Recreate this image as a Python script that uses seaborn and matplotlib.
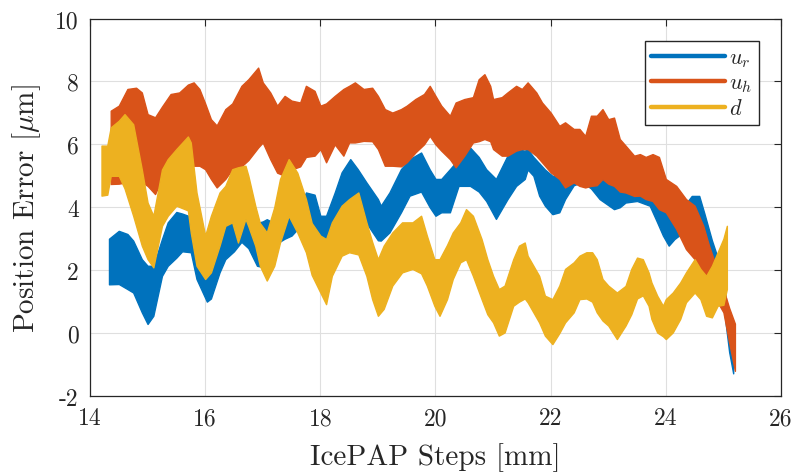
import numpy as np
import pandas as pd
import matplotlib
matplotlib.use("Agg")
import matplotlib.pyplot as plt
import seaborn as sns
from matplotlib.lines import Line2D

# Envelope (lower / upper) of each measured error band versus IcePAP steps [mm]
ur_x = [14.33, 14.5, 14.65, 14.75, 14.9, 15.0, 15.1, 15.25, 15.35, 15.5, 15.6, 15.75,
        15.85, 16.03, 16.1, 16.25, 16.35, 16.5, 16.63, 16.75, 16.9, 17.0, 17.07, 17.2,
        17.38, 17.5, 17.6, 17.75, 17.9, 18.0, 18.1, 18.25, 18.37, 18.52, 18.65, 18.8,
        19.0, 19.05, 19.2, 19.4, 19.55, 19.75, 19.9, 20.0, 20.1, 20.25, 20.4, 20.6,
        20.75, 20.88, 21.05, 21.25, 21.4, 21.55, 21.6, 21.7, 21.8, 21.9, 22.03, 22.15,
        22.25, 22.4, 22.55, 22.7, 22.85, 23.1, 23.2, 23.3, 23.5, 23.72, 23.85, 23.95,
        24.05, 24.15, 24.3, 24.45, 24.58, 24.67, 24.8, 24.9, 25.0, 25.1, 25.17]
ur_lo = [1.55, 1.56, 1.4, 1.29, 0.66, 0.29, 0.55, 1.82, 2.14, 2.4, 2.6, 2.57,
         1.72, 1.0, 1.1, 1.93, 2.35, 2.6, 2.9, 2.7, 2.14, 2.1, 2.5, 2.8,
         3.0, 3.1, 3.3, 3.4, 3.3, 2.99, 2.67, 3.31, 3.84, 4.26, 4.0, 3.5,
         2.95, 2.94, 3.2, 3.84, 4.37, 4.5, 4.0, 3.73, 3.84, 3.84, 4.68, 4.68,
         4.5, 4.2, 3.63, 4.26, 4.68, 4.9, 5.2, 5.0, 4.37, 4.05, 3.78, 3.84,
         4.26, 4.7, 4.8, 4.6, 4.26, 3.94, 4.0, 4.15, 4.2, 4.05, 3.52, 3.1,
         2.78, 2.99, 3.2, 3.5, 3.6, 3.2, 2.1, 1.6, 0.9, -0.6, -1.28]
ur_hi = [3.0, 3.25, 3.15, 2.94, 2.35, 2.14, 2.14, 2.99, 3.52, 3.85, 3.8, 3.7,
         3.0, 2.2, 2.4, 3.0, 3.4, 3.6, 3.75, 3.73, 3.5, 3.55, 3.62, 3.5,
         3.75, 3.84, 3.8, 4.47, 4.4, 3.73, 3.73, 4.47, 5.11, 5.53, 5.21, 4.79,
         4.26, 4.05, 4.47, 5.21, 5.53, 5.74, 5.2, 4.9, 4.9, 5.21, 5.53, 5.9,
         5.6, 5.21, 4.9, 5.64, 5.85, 5.8, 5.85, 5.6, 5.4, 5.2, 5.0, 5.0,
         5.1, 5.3, 5.4, 5.43, 5.3, 5.0, 4.9, 4.8, 4.8, 4.6, 4.3, 4.1,
         3.9, 3.9, 4.0, 4.36, 4.36, 3.8, 2.95, 2.4, 1.8, 0.2, -0.9]

uh_x = [14.36, 14.5, 14.65, 14.8, 14.9, 15.0, 15.13, 15.25, 15.4, 15.55, 15.7, 15.8,
        15.9, 16.0, 16.1, 16.2, 16.35, 16.47, 16.63, 16.75, 16.92, 17.0, 17.13, 17.25,
        17.38, 17.5, 17.65, 17.75, 17.9, 18.0, 18.1, 18.25, 18.4, 18.5, 18.6, 18.75,
        18.9, 19.0, 19.12, 19.25, 19.4, 19.5, 19.65, 19.8, 19.9, 20.0, 20.1, 20.25,
        20.35, 20.5, 20.65, 20.75, 20.85, 20.95, 21.0, 21.15, 21.25, 21.4, 21.5, 21.6,
        21.75, 21.85, 22.0, 22.15, 22.25, 22.4, 22.5, 22.6, 22.7, 22.8, 22.9, 23.0,
        23.1, 23.2, 23.3, 23.45, 23.55, 23.65, 23.77, 23.88, 24.0, 24.18, 24.35, 24.5,
        24.65, 24.75, 24.87, 25.0, 25.1, 25.2]
uh_lo = [4.74, 4.75, 4.8, 4.9, 4.8, 4.68, 4.42, 4.9, 5.1, 5.2, 5.3, 5.32,
         5.32, 5.21, 4.9, 4.63, 4.9, 5.21, 5.3, 5.5, 5.9, 6.06, 5.53, 5.1,
         5.0, 5.2, 5.3, 5.6, 5.64, 5.85, 5.43, 6.0, 5.64, 6.06, 6.06, 6.11,
         6.1, 5.85, 5.32, 5.32, 5.3, 5.43, 5.74, 6.0, 6.27, 6.0, 5.8, 5.53,
         5.27, 5.64, 6.06, 6.1, 6.17, 6.1, 5.85, 5.64, 5.64, 5.8, 5.85, 5.85,
         5.64, 5.43, 5.11, 4.9, 4.63, 4.79, 4.68, 4.63, 4.68, 4.7, 4.9, 4.75,
         4.68, 4.5, 4.47, 4.36, 4.37, 4.26, 4.2, 3.94, 3.84, 3.31, 2.67, 2.35,
         1.82, 1.51, 1.08, 0.66, -0.3, -1.2]
uh_hi = [7.07, 7.23, 7.76, 7.8, 7.65, 6.96, 6.86, 7.2, 7.6, 7.65, 7.9, 7.97,
         7.76, 7.3, 6.8, 6.6, 7.12, 7.3, 7.86, 8.07, 8.44, 7.97, 7.65, 7.23,
         7.54, 7.39, 7.33, 7.86, 7.7, 7.23, 7.3, 7.54, 7.76, 7.86, 7.97, 7.76,
         7.8, 7.54, 7.12, 7.01, 7.12, 7.23, 7.44, 7.6, 7.86, 7.54, 7.23, 6.91,
         7.33, 7.44, 7.5, 8.07, 8.23, 7.86, 7.44, 7.5, 7.65, 7.86, 7.76, 7.97,
         7.65, 7.33, 7.01, 6.59, 6.7, 6.49, 6.49, 6.27, 6.91, 6.91, 7.12, 6.8,
         6.85, 6.17, 5.96, 5.64, 5.69, 5.6, 5.69, 5.6, 4.9, 4.68, 4.26, 4.05,
         3.41, 2.78, 2.14, 1.4, 0.8, 0.3]

d_x = [14.2, 14.3, 14.36, 14.5, 14.6, 14.75, 14.9, 15.0, 15.1, 15.25, 15.35, 15.5,
       15.7, 15.75, 15.85, 16.0, 16.1, 16.25, 16.35, 16.47, 16.57, 16.7, 16.75, 16.87,
       16.95, 17.07, 17.2, 17.3, 17.45, 17.6, 17.75, 17.85, 18.0, 18.1, 18.2, 18.37,
       18.5, 18.66, 18.8, 18.9, 19.0, 19.1, 19.25, 19.42, 19.6, 19.75, 19.85, 19.98,
       20.07, 20.2, 20.3, 20.43, 20.53, 20.65, 20.8, 20.9, 21.0, 21.1, 21.2, 21.35,
       21.45, 21.55, 21.6, 21.8, 21.9, 22.03, 22.15, 22.25, 22.4, 22.5, 22.62, 22.72,
       22.8, 22.9, 23.0, 23.15, 23.3, 23.4, 23.5, 23.6, 23.7, 23.75, 23.85, 23.95,
       24.0, 24.12, 24.25, 24.35, 24.5, 24.6, 24.7, 24.8, 24.9, 25.0, 25.06]
d_lo = [4.37, 4.4, 5.0, 5.0, 4.6, 3.73, 2.78, 2.35, 2.09, 3.41, 3.73, 4.05,
        3.9, 3.2, 2.14, 1.72, 1.93, 2.78, 3.41, 3.52, 2.88, 3.63, 3.4, 2.78,
        2.14, 1.67, 2.14, 2.88, 3.73, 3.2, 2.57, 1.85, 1.29, 0.92, 1.82, 2.46,
        2.57, 2.5, 1.82, 1.08, 0.55, 0.77, 1.51, 1.93, 2.04, 1.9, 1.51, 0.87,
        0.55, 1.08, 1.72, 2.25, 2.35, 1.82, 1.08, 0.6, 0.34, -0.08, 0.02, 0.87,
        1.0, 1.1, 0.98, 0.34, -0.08, -0.35, 0.0, 0.34, 0.66, 1.08, 1.1, 1.0,
        0.66, 0.4, 0.24, -0.19, 0.24, 0.6, 1.1, 1.2, 0.87, 0.45, 0.02, -0.1,
        -0.19, 0.02, 0.45, 0.98, 1.29, 1.08, 0.55, 0.5, 0.87, 0.9, 1.4]
d_hi = [5.96, 5.96, 6.54, 6.75, 6.96, 6.64, 5.2, 4.15, 3.73, 5.2, 5.53, 5.85,
        6.25, 6.06, 4.47, 3.1, 3.73, 4.47, 4.68, 5.21, 5.27, 5.32, 5.0, 4.05,
        3.5, 3.2, 4.0, 4.9, 5.53, 5.1, 4.26, 3.5, 3.1, 2.99, 3.52, 4.05,
        4.26, 4.47, 3.52, 2.9, 2.35, 2.78, 3.2, 3.52, 3.52, 3.73, 3.1, 2.35,
        2.35, 2.8, 3.2, 3.52, 3.94, 3.73, 2.99, 2.35, 1.82, 1.4, 1.51, 2.35,
        2.78, 2.88, 2.46, 1.82, 1.19, 1.08, 1.51, 2.04, 2.25, 2.46, 2.57, 2.57,
        2.35, 1.72, 1.51, 1.29, 1.5, 2.04, 2.4, 2.35, 1.93, 1.61, 1.19, 0.87,
        1.08, 1.29, 1.61, 1.93, 2.35, 2.04, 1.82, 2.14, 2.57, 3.0, 3.41]

series_names = ["$u_r$", "$u_h$", "$d$"]
series_colors = ["#0072BD", "#D95319", "#EDB120"]
x_ticks = [14, 16, 18, 20, 22, 24, 26]
y_ticks = [-2, 0, 2, 4, 6, 8, 10]


def band_frame(x, lo, hi, name):
    return pd.DataFrame({
        "steps": np.concatenate([x, x]),
        "error": np.concatenate([lo, hi]),
        "signal": name,
    })


bands = [
    band_frame(ur_x, ur_lo, ur_hi, series_names[0]),
    band_frame(uh_x, uh_lo, uh_hi, series_names[1]),
    band_frame(d_x, d_lo, d_hi, series_names[2]),
]

sns.set_theme(style="white")
plt.rcParams.update({
    "font.family": ["cmr10", "DejaVu Serif"],
    "mathtext.fontset": "cm",
    "axes.unicode_minus": False,
    "axes.formatter.use_mathtext": True,
})

fig = plt.figure(figsize=(7.97, 4.77), dpi=100)
ax = fig.add_axes([0.1129, 0.1677, 0.867, 0.7914])

for k, (df, color) in enumerate(zip(bands, series_colors)):
    sns.lineplot(
        data=df, x="steps", y="error", ax=ax, color=color,
        estimator="mean", errorbar=("pi", 100), linewidth=0,
        err_kws={"alpha": 1, "linewidth": 1.0, "zorder": 2 + k},
        zorder=2 + k, legend=False,
    )

ax.set_xlim(14, 26)
ax.set_ylim(-2, 10)
ax.set_xticks(x_ticks)
ax.set_yticks(y_ticks)
ax.set_xticklabels([str(v) for v in x_ticks])
ax.set_yticklabels([str(v) for v in y_ticks])
ax.grid(True, color="#dfdfdf", linewidth=0.8)
ax.set_axisbelow(True)
for side in ["left", "right", "top", "bottom"]:
    ax.spines[side].set_visible(True)
    ax.spines[side].set_color("#262626")
    ax.spines[side].set_linewidth(0.9)
ax.tick_params(direction="in", length=5, width=0.8, top=True, right=True,
               labelsize=17, colors="#262626", pad=8)

ax.set_xlabel("IcePAP Steps [mm]", fontsize=21, color="#262626", labelpad=9)
ax.set_ylabel(r"Position Error [$\mu$m]", fontsize=21, color="#262626", labelpad=9)

handles = [Line2D([0], [0], color=c, linewidth=3.2) for c in series_colors]
leg = ax.legend(handles, series_names, loc="upper right",
                bbox_to_anchor=(0.968, 0.94), fontsize=16, frameon=True,
                fancybox=False, edgecolor="#262626", framealpha=1,
                handlelength=3.3, handletextpad=0.2, labelspacing=0.18,
                borderpad=0.3, borderaxespad=0)
leg.get_frame().set_linewidth(1.0)

fig.savefig("out.png", dpi=100)
